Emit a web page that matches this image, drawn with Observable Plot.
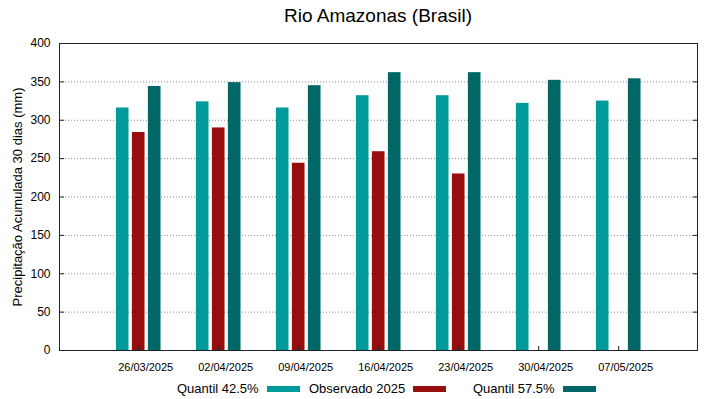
<!DOCTYPE html>
<html>
<head>
<meta charset="utf-8">
<script src="https://cdn.jsdelivr.net/npm/d3@7"></script>
<script src="https://cdn.jsdelivr.net/npm/@observablehq/plot@0.6"></script>
<style>
  html, body { margin: 0; padding: 0; background: #fff; }
  body { width: 719px; height: 399px; overflow: hidden; font-family: "Liberation Sans", Arial, sans-serif; color: #000; }
  #title { height: 33px; line-height: 31px; font-size: 19px; text-align: center; width: 719px; padding-left: 37px; box-sizing: border-box; }
  #legend { position: relative; height: 21px; font-size: 13px; }
  .item { position: absolute; top: 0; height: 21px; display: flex; align-items: center; white-space: nowrap; }
  .sw { display: inline-block; width: 33px; height: 6px; margin-left: 8px; }
</style>
</head>
<body>
<div id="title">Rio Amazonas (Brasil)</div>
<div id="chart"></div>
<div id="legend"></div>
<script>
const dates = ["26/03/2025","02/04/2025","09/04/2025","16/04/2025","23/04/2025","30/04/2025","07/05/2025"];
const seriesNames = ["Quantil 42.5%", "Observado 2025", "Quantil 57.5%"];
const seriesColors = ["#009a9a", "#980d0d", "#006767"];
const quantil425 = [316, 324, 316, 332, 332, 322, 325];
const observado2025 = [284, 290, 244, 259, 230, null, null];
const quantil575 = [344, 349, 345, 362, 362, 352, 354];
const yTicks = [0, 50, 100, 150, 200, 250, 300, 350, 400];
const gridTicks = [50, 100, 150, 200, 250, 300, 350];
const yLabel = "Precipitação Acumulada 30 dias (mm)";

const seriesValues = [quantil425, observado2025, quantil575];
const rows = [];
dates.forEach((date, i) => {
  seriesValues.forEach((vals, k) => {
    if (vals[i] != null) rows.push({date, i, k, series: seriesNames[k], value: vals[i]});
  });
});
const offset = 0.2, half = 0.079;

const chart = Plot.plot({
  width: 719,
  height: 345,
  marginTop: 10,
  marginBottom: 28,
  marginLeft: 59,
  marginRight: 22,
  style: {fontFamily: "Liberation Sans, Arial, sans-serif", color: "#000", background: "#fff"},
  x: {domain: [-0.99, 6.985]},
  y: {domain: [0, 400]},
  color: {domain: seriesNames, range: seriesColors},
  marks: [
    Plot.gridY(gridTicks, {stroke: "#8a8a8a", strokeOpacity: 1, strokeDasharray: "1,2"}),
    Plot.rectY(rows, {
      x1: d => d.i + (d.k - 1) * offset - half,
      x2: d => d.i + (d.k - 1) * offset + half,
      y1: 0,
      y2: "value",
      fill: "series"
    }),
    Plot.axisY(yTicks, {anchor: "left", tickSize: 0, tickPadding: 9, fontSize: 12, label: null}),
    Plot.text([yLabel], {frameAnchor: "left", textAnchor: "middle", rotate: -90, dx: -42, fontSize: 13, fill: "#000"}),
    Plot.axisY(yTicks, {anchor: "left", text: null, tickSize: -5, label: null, stroke: "#222"}),
    Plot.axisY(yTicks, {anchor: "right", text: null, tickSize: -5, label: null, stroke: "#222"}),
    Plot.axisX(d3.range(dates.length), {anchor: "bottom", tickSize: 0, tickPadding: 13, fontSize: 11,
      tickFormat: i => dates[i], dx: 7, label: null}),
    Plot.axisX(d3.range(dates.length), {anchor: "bottom", text: null, tickSize: -4, label: null, stroke: "#222"}),
    Plot.frame({stroke: "#222"})
  ]
});
document.getElementById("chart").appendChild(chart);

const legend = document.getElementById("legend");
const lefts = [177, 309, 473];
seriesNames.forEach((name, k) => {
  const item = document.createElement("div");
  item.className = "item";
  item.style.left = lefts[k] + "px";
  const t = document.createElement("span");
  t.textContent = name;
  const sw = document.createElement("span");
  sw.className = "sw";
  sw.style.background = seriesColors[k];
  item.appendChild(t);
  item.appendChild(sw);
  legend.appendChild(item);
});
</script>
</body>
</html>
